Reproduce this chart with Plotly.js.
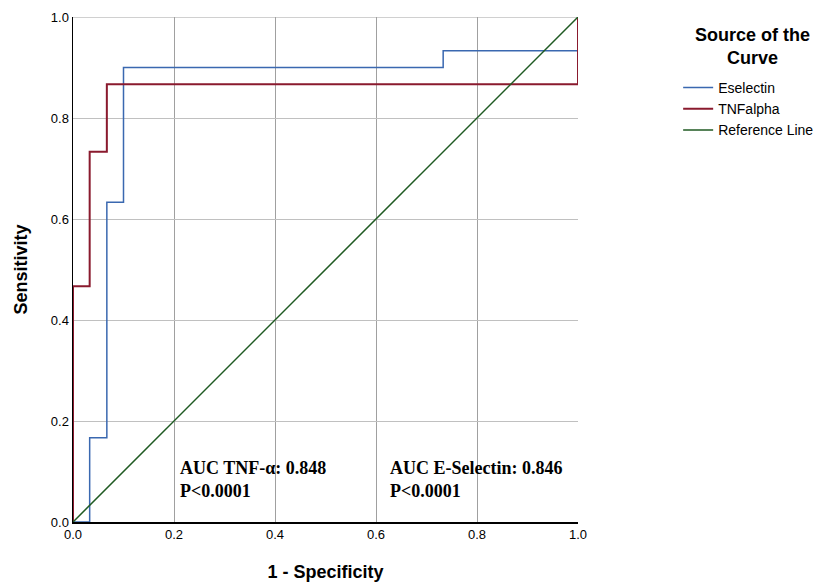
<!DOCTYPE html>
<html>
<head>
<meta charset="utf-8">
<script src="https://cdn.plot.ly/plotly-3.0.1.min.js"></script>
<style>html,body{margin:0;padding:0;background:#fff;}#chart{width:825px;height:585px;}</style>
</head>
<body>
<div id="chart"></div>
<script>
// ROC points (1 - Specificity, Sensitivity)
const eselectinX = [0, 0.033, 0.067, 0.1, 0.733, 1, 1];
const eselectinY = [0, 0.167, 0.633, 0.9, 0.933, 1, 1];
const tnfX = [0, 0, 0.033, 0.067, 1, 1];
const tnfY = [0, 0.467, 0.733, 0.867, 1, 1];
const refX = [0, 1];
const refY = [0, 1];
const seriesNames = ["Eselectin", "TNFalpha", "Reference Line"];
const tickVals = [0, 0.2, 0.4, 0.6, 0.8, 1.0];
const tickText = ["0.0", "0.2", "0.4", "0.6", "0.8", "1.0"];
const aucTexts = ["AUC TNF-α: 0.848<br>P<0.0001", "AUC E-Selectin: 0.846<br>P<0.0001"];
const aucX = [0.208, 0.624];
const legendTitle = "Source of the<br>Curve";

const traces = [
  {x: eselectinX, y: eselectinY, name: seriesNames[0], mode: "lines",
   line: {color: "#3a68b0", width: 1.5, shape: "hv"}, cliponaxis: false},
  {x: tnfX, y: tnfY, name: seriesNames[1], mode: "lines",
   line: {color: "#8a1a2e", width: 2, shape: "hv"}, cliponaxis: false},
  {x: refX, y: refY, name: seriesNames[2], mode: "lines",
   line: {color: "#1f5a22", width: 1.5}, cliponaxis: false}
];

const serif = "Liberation Serif, Times New Roman, serif";
const layout = {
  width: 825, height: 585,
  margin: {l: 73, r: 247, t: 17, b: 63, autoexpand: false},
  paper_bgcolor: "#fff", plot_bgcolor: "#fff",
  font: {family: "Arial, Liberation Sans, sans-serif", color: "#000", size: 13},
  showlegend: true,
  xaxis: {
    range: [0, 1], tickvals: tickVals, ticktext: tickText, automargin: false,
    showgrid: true, gridcolor: "#a0a0a0", gridwidth: 1,
    showline: true, linecolor: "#000", linewidth: 1.5,
    zeroline: false, ticks: "", fixedrange: true,
    tickfont: {size: 13, color: "#000"},
    title: {text: "<b>1 - Specificity</b>", font: {size: 18, color: "#000"}, standoff: 24}
  },
  yaxis: {
    range: [0, 1], tickvals: tickVals, ticktext: tickText, automargin: false,
    showgrid: true, gridcolor: "#c0c0c0", gridwidth: 1,
    showline: true, linecolor: "#000", linewidth: 1.5,
    zeroline: false, ticks: "", fixedrange: true,
    tickfont: {size: 13, color: "#000"},
    title: {text: "<b>Sensitivity</b>", font: {size: 18, color: "#000"}, standoff: 18}
  },
  legend: {
    xref: "container", yref: "container",
    x: 0.822, xanchor: "left", y: 0.877, yanchor: "top",
    font: {size: 14, color: "#000"},
    bgcolor: "rgba(0,0,0,0)", borderwidth: 0, tracegroupgap: 0
  },
  shapes: [
    {type: "line", xref: "x", yref: "y", x0: 0, x1: 1, y0: 1, y1: 1,
     line: {color: "#c0c0c0", width: 1.5}, layer: "below"}
  ],
  annotations: [
    {text: "<b>" + legendTitle + "</b>", xref: "paper", yref: "paper",
     x: 1.3465, y: 0.9406, xanchor: "center", yanchor: "middle", showarrow: false,
     align: "center", font: {size: 18, color: "#000"}},
    {text: aucTexts[0], xref: "x", yref: "y", x: aucX[0], y: 0.084,
     xanchor: "left", yanchor: "middle", showarrow: false, align: "left",
     font: {family: serif, size: 18, color: "#000", weight: "bold"}},
    {text: aucTexts[1], xref: "x", yref: "y", x: aucX[1], y: 0.084,
     xanchor: "left", yanchor: "middle", showarrow: false, align: "left",
     font: {family: serif, size: 18, color: "#000", weight: "bold"}}
  ]
};

Plotly.newPlot("chart", traces, layout, {displayModeBar: false, staticPlot: true});
</script>
</body>
</html>
